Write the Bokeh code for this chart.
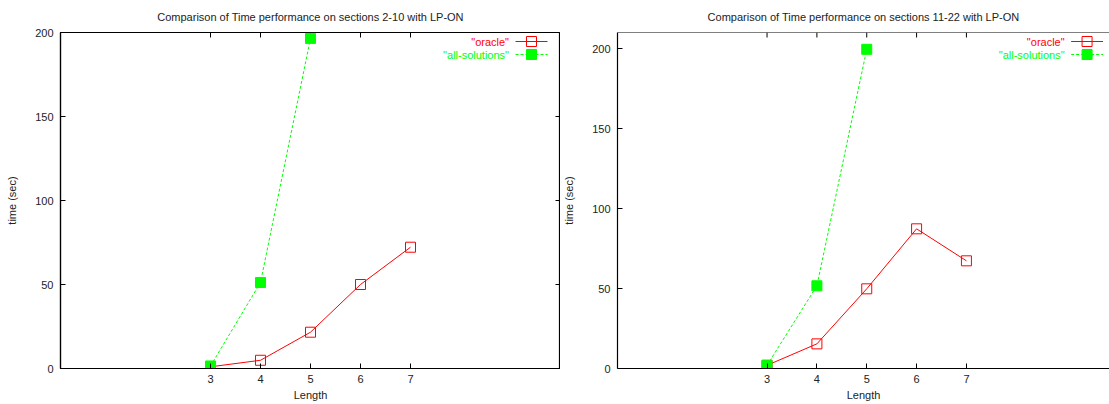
from bokeh.plotting import figure
from bokeh.layouts import row
from bokeh.models import FixedTicker, Range1d, Label, Span
from bokeh.embed import file_html
from bokeh.resources import INLINE

# Solver run times (seconds) by path length
lengths = [3, 4, 5, 6, 7]
lengths_all = [3, 4, 5]

oracle_2_10 = [1.0, 4.9, 21.6, 50.0, 72.2]
all_solutions_2_10 = [1.5, 51.2, 196.5]

oracle_11_22 = [2.0, 15.4, 49.8, 87.3, 67.3]
all_solutions_11_22 = [2.0, 51.7, 199.5]

x_ticks = [3, 4, 5, 6, 7]
y_ticks = [0, 50, 100, 150, 200]

FONT = "Liberation Sans"
RED = "#ff0000"
GREEN = "#00ff00"
TICK_LEN = 5  # px, ticks point into the plot
TOP = 32      # px above the frame
BOTTOM = 36   # px below the frame


def style_axis(ax):
    ax.major_tick_in = TICK_LEN
    ax.major_tick_out = 0
    ax.minor_tick_in = 0
    ax.minor_tick_out = 0
    ax.axis_line_color = "black"
    ax.axis_line_width = 1.2
    ax.major_tick_line_color = "black"
    ax.major_label_text_font = FONT
    ax.major_label_text_font_size = "11px"
    ax.major_label_text_color = "#222222"
    ax.axis_label_text_font = FONT
    ax.axis_label_text_font_size = "11px"
    ax.axis_label_text_font_style = "normal"
    ax.axis_label_text_color = "#222222"


def make_panel(title, oracle, all_sol, y_end, x_end, width, left_border, mirror_right):
    frame_w = width - left_border
    frame_h = 404 - TOP - BOTTOM
    ppx = frame_w / x_end
    ppy = frame_h / y_end

    p = figure(width=width, height=404, output_backend="svg", toolbar_location=None,
               x_range=Range1d(0, x_end), y_range=Range1d(0, y_end),
               min_border_left=left_border, min_border_right=0,
               min_border_top=TOP, min_border_bottom=BOTTOM,
               background_fill_color="white", border_fill_color="white")
    p.title.text = title
    p.title.text_font = FONT
    p.title.text_font_size = "11px"
    p.title.text_font_style = "normal"
    p.title.text_color = "#222222"
    p.title.align = "center"
    p.title.vertical_align = "middle"
    p.title.standoff = 17
    p.grid.visible = False
    p.outline_line_color = "black" if mirror_right else None
    p.outline_line_width = 1.2

    p.xaxis.ticker = FixedTicker(ticks=x_ticks)
    p.yaxis.ticker = FixedTicker(ticks=y_ticks)
    p.xaxis.axis_label = "Length"
    p.yaxis.axis_label = "time (sec)"
    style_axis(p.xaxis[0])
    style_axis(p.yaxis[0])
    p.xaxis.major_label_standoff = 6
    p.xaxis.axis_label_standoff = 3
    p.yaxis.major_label_standoff = 7
    p.yaxis.axis_label_standoff = 14

    # top border with mirrored x ticks
    if not mirror_right:
        p.add_layout(Span(location=y_end, dimension="width",
                          line_color="black", line_width=1.2))
    p.segment(x0=x_ticks, y0=[y_end] * len(x_ticks),
              x1=x_ticks, y1=[y_end - TICK_LEN / ppy] * len(x_ticks),
              line_color="black", line_width=1)
    # right border with mirrored y ticks
    if mirror_right:
        p.segment(x0=[x_end] * len(y_ticks), y0=y_ticks,
                  x1=[x_end - TICK_LEN / ppx] * len(y_ticks), y1=y_ticks,
                  line_color="black", line_width=1)

    # data series
    p.line(lengths, oracle, line_color=RED, line_width=1)
    p.scatter(lengths, oracle, marker="square", size=10, fill_color=None,
              line_color=RED, line_width=1)
    p.line(lengths_all, all_sol, line_color=GREEN, line_width=1, line_dash="3 2")
    p.scatter(lengths_all, all_sol, marker="square", size=10, fill_color=GREEN,
              line_color=GREEN, line_width=1)

    # key in the upper right corner: label, then line sample with marker
    key_rows = [("\"oracle\"", RED, "solid", None), ("\"all-solutions\"", GREEN, "3 2", GREEN)]
    for i, (name, color, dash, fill) in enumerate(key_rows):
        ky = y_end - (9 + 13 * i) / ppy
        p.add_layout(Label(x=8.97, y=ky, text=name, text_align="right",
                           text_baseline="middle", text_font=FONT,
                           text_font_size="11px", text_color=color))
        p.line([9.1, 9.74], [ky, ky], line_color=color, line_width=1, line_dash=dash)
        p.scatter([9.42], [ky], marker="square", size=10, fill_color=fill,
                  line_color=color, line_width=1)
    return p


left = make_panel("Comparison of Time performance on sections 2-10 with LP-ON",
                  oracle_2_10, all_solutions_2_10, 200, 10, 560, 60, True)
right = make_panel("Comparison of Time performance on sections 11-22 with LP-ON",
                   oracle_11_22, all_solutions_11_22, 210, 9.87, 549, 57, False)

layout = row(left, right)
open("out.html", "w").write(file_html(layout, INLINE))
